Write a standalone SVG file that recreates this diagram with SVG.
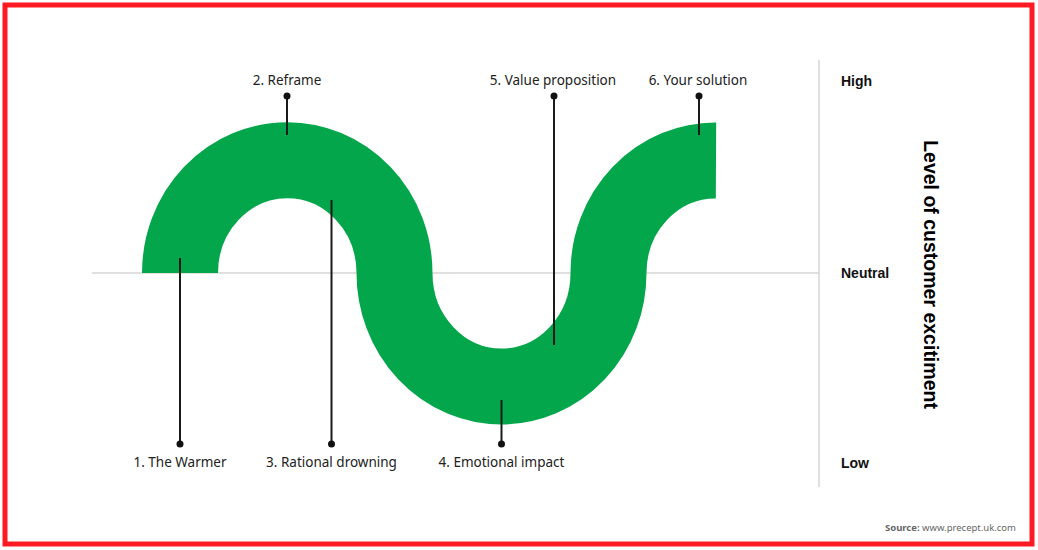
<svg xmlns="http://www.w3.org/2000/svg" width="1038" height="550" viewBox="0 0 1038 550">
<style>
.lbl{font-family:"Noto Sans","Liberation Sans",sans-serif;font-size:13.5px;fill:#222;text-anchor:middle}
.ax{font-family:"Liberation Sans",sans-serif;font-size:14px;font-weight:bold;fill:#111}
.conn{stroke:#1a1a1a;stroke-width:2;fill:none}
.dot{fill:#111}
.grid{stroke:#d6d6d6;stroke-width:1.5;fill:none}
</style>
<rect x="0" y="0" width="1038" height="550" fill="#fff"/>
<rect x="5" y="5" width="1027" height="539" fill="none" stroke="#fd1a22" stroke-width="5"/>
<g id="axes">
<line class="grid" x1="92" y1="273" x2="819" y2="273"/>
<line class="grid" x1="819" y1="60" x2="819" y2="487"/>
<text class="ax" x="841" y="86">High</text>
<text class="ax" x="841" y="278">Neutral</text>
<text class="ax" x="841" y="468">Low</text>
<text class="ax" transform="translate(924,274.5) rotate(90)" text-anchor="middle" style="font-size:19.5px;fill:#000">Level of customer excitiment</text>
</g>
<g id="curve">
<path d="M180,273 A107,112.5 0 0 1 394.5,273 A107,113.5 0 0 0 608.5,273 A107,112.5 0 0 1 716,160.5" fill="none" stroke="#04a64b" stroke-width="76" stroke-linecap="butt"/>
</g>
<g id="connectors">
<line class="conn" x1="180" y1="258" x2="180" y2="444"/>
<line class="conn" x1="331.5" y1="200" x2="331.5" y2="444"/>
<line class="conn" x1="501.5" y1="400" x2="501.5" y2="444"/>
<line class="conn" x1="287" y1="96" x2="287" y2="135"/>
<line class="conn" x1="554" y1="96" x2="554" y2="345"/>
<line class="conn" x1="699" y1="96" x2="699" y2="135"/>
</g>
<g id="n1"><circle class="dot" cx="180" cy="444" r="3.5"/><text class="lbl" x="180" y="467">1. The Warmer</text></g>
<g id="n2"><circle class="dot" cx="287" cy="96" r="3.5"/><text class="lbl" x="287" y="85">2. Reframe</text></g>
<g id="n3"><circle class="dot" cx="331.5" cy="444" r="3.5"/><text class="lbl" x="331.5" y="467">3. Rational drowning</text></g>
<g id="n4"><circle class="dot" cx="501.5" cy="444" r="3.5"/><text class="lbl" x="501.5" y="467">4. Emotional impact</text></g>
<g id="n5"><circle class="dot" cx="554" cy="96" r="3.5"/><text class="lbl" x="553" y="85">5. Value proposition</text></g>
<g id="n6"><circle class="dot" cx="699" cy="96" r="3.5"/><text class="lbl" x="698" y="85">6. Your solution</text></g>
<g id="source">
<text x="1016" y="531" text-anchor="end" style="font-family:'Noto Sans','Liberation Sans',sans-serif;font-size:9.5px;fill:#666"><tspan font-weight="bold">Source:</tspan> www.precept.uk.com</text>
</g>
</svg>
